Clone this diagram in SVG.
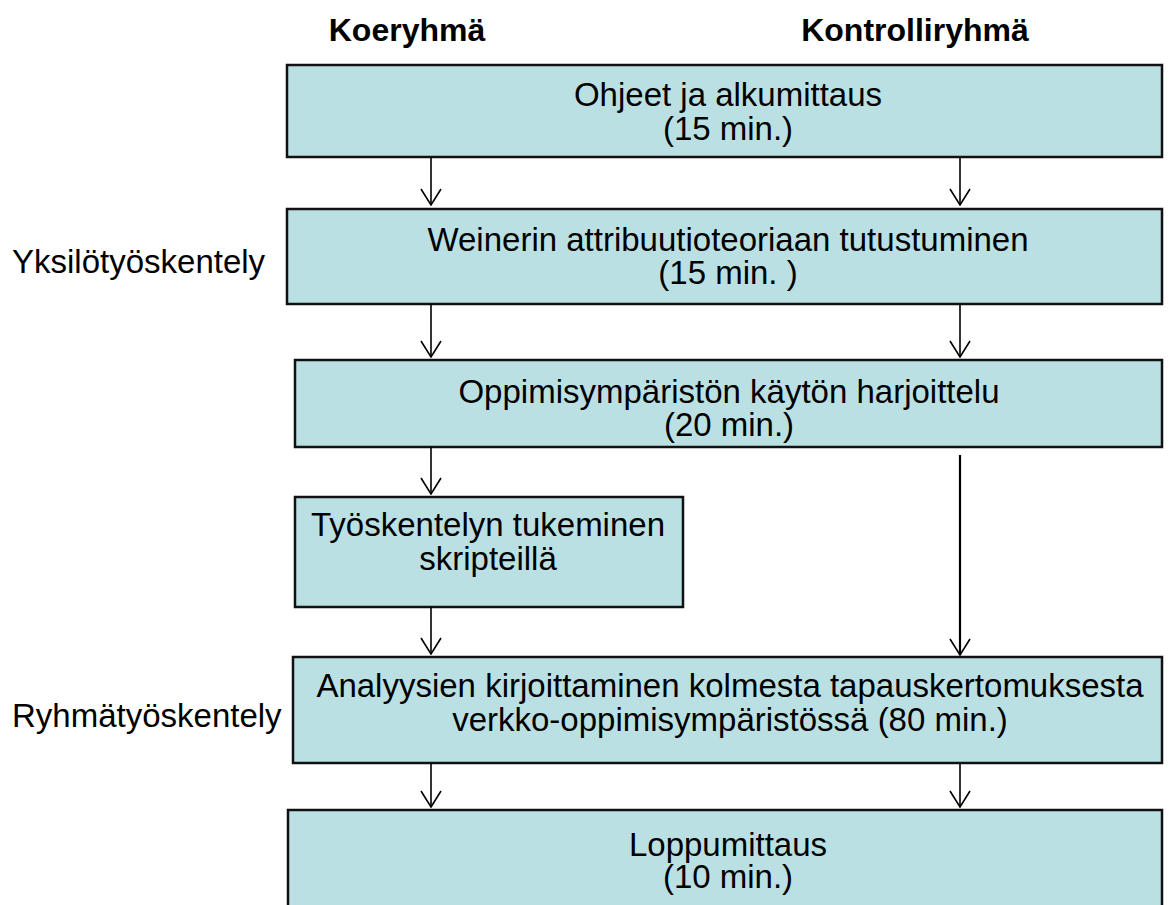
<svg xmlns="http://www.w3.org/2000/svg" width="1174" height="905" viewBox="0 0 1174 905">
<defs>
<style>
.box{fill:#BAE0E3;stroke:#111;stroke-width:2.5}
.t{font-family:"Liberation Sans",Arial,sans-serif;font-size:33px;fill:#000;text-anchor:middle}
.h{font-family:"Liberation Sans",Arial,sans-serif;font-size:32px;font-weight:bold;fill:#000;text-anchor:middle}
.s{font-family:"Liberation Sans",Arial,sans-serif;font-size:33px;fill:#000}
.c{stroke:#000;stroke-width:1.6;fill:none}
</style>
<marker id="ah" viewBox="0 0 18 22" refX="17" refY="11" markerWidth="18" markerHeight="22" markerUnits="userSpaceOnUse" orient="auto">
<path d="M1,1 L17,11 L1,21" fill="none" stroke="#000" stroke-width="1.6"/>
</marker>
</defs>
<rect width="1174" height="905" fill="#fff"/>
<g id="headers">
<text class="h" x="407" y="41">Koeryhmä</text>
<text class="h" x="915" y="41">Kontrolliryhmä</text>
</g>
<g id="labels">
<text class="s" x="12" y="273">Yksilötyöskentely</text>
<text class="s" x="12" y="727">Ryhmätyöskentely</text>
</g>
<g id="n1">
<rect class="box" x="287" y="65" width="875" height="92"/>
<text class="t" x="728" y="106">Ohjeet ja alkumittaus</text>
<text class="t" x="728" y="140">(15 min.)</text>
</g>
<g id="n2">
<rect class="box" x="287" y="209" width="875" height="95"/>
<text class="t" x="728" y="251">Weinerin attribuutioteoriaan tutustuminen</text>
<text class="t" x="728" y="284">(15 min. )</text>
</g>
<g id="n3">
<rect class="box" x="295" y="360" width="867" height="87"/>
<text class="t" x="729" y="403">Oppimisympäristön käytön harjoittelu</text>
<text class="t" x="729" y="436">(20 min.)</text>
</g>
<g id="n4">
<rect class="box" x="295" y="497" width="388" height="110"/>
<text class="t" x="488" y="536">Työskentelyn tukeminen</text>
<text class="t" x="488" y="570">skripteillä</text>
</g>
<g id="n5">
<rect class="box" x="293" y="657" width="869" height="106"/>
<text class="t" x="730" y="697">Analyysien kirjoittaminen kolmesta tapauskertomuksesta</text>
<text class="t" x="730" y="731">verkko-oppimisympäristössä (80 min.)</text>
</g>
<g id="n6">
<rect class="box" x="288" y="810" width="874" height="110"/>
<text class="t" x="728" y="856">Loppumittaus</text>
<text class="t" x="728" y="888">(10 min.)</text>
</g>
<g id="connectors">
<line class="c" x1="431" y1="157" x2="431" y2="205" marker-end="url(#ah)"/>
<line class="c" x1="960" y1="157" x2="960" y2="205" marker-end="url(#ah)"/>
<line class="c" x1="431" y1="304" x2="431" y2="357" marker-end="url(#ah)"/>
<line class="c" x1="960" y1="304" x2="960" y2="357" marker-end="url(#ah)"/>
<line class="c" x1="431" y1="447" x2="431" y2="494" marker-end="url(#ah)"/>
<line class="c" x1="960" y1="455" x2="960" y2="655" marker-end="url(#ah)" style="stroke-width:2.2"/>
<line class="c" x1="431" y1="607" x2="431" y2="654" marker-end="url(#ah)"/>
<line class="c" x1="431" y1="763" x2="431" y2="807" marker-end="url(#ah)"/>
<line class="c" x1="960" y1="763" x2="960" y2="807" marker-end="url(#ah)"/>
</g>
</svg>
